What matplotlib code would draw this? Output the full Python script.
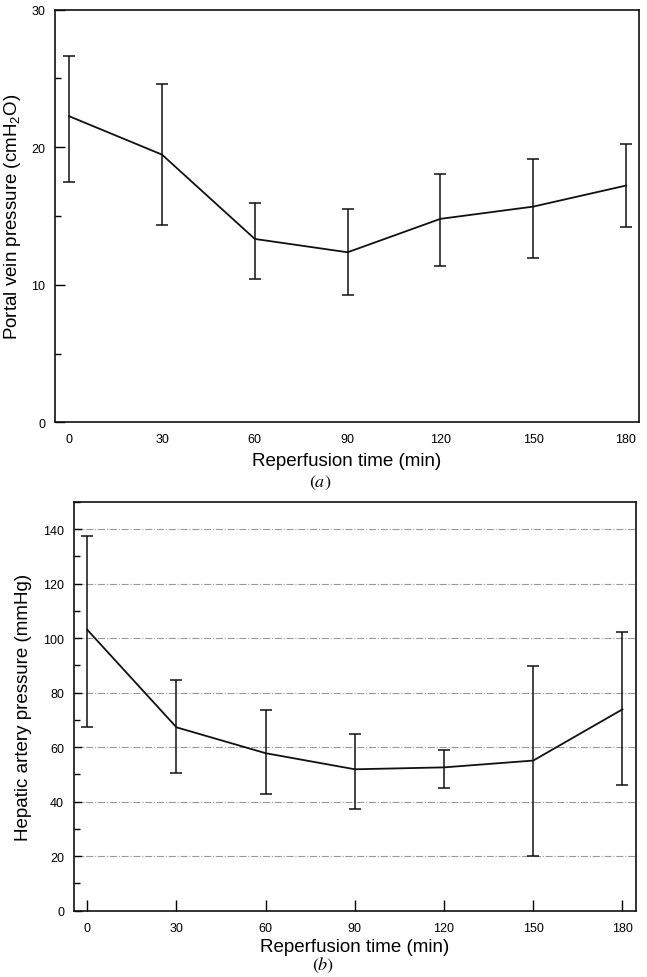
import matplotlib
matplotlib.use('Agg')
import matplotlib.pyplot as plt
import numpy as np
from matplotlib.ticker import MultipleLocator

# reperfusion time points (min)
time = [0, 30, 60, 90, 120, 150, 180]

# (a) portal vein pressure, cmH2O: mean with lower/upper bar ends
portal_mean = [22.25, 19.46, 13.33, 12.36, 14.79, 15.68, 17.21]
portal_upper = [26.66, 24.63, 15.95, 15.51, 18.06, 19.13, 20.22]
portal_lower = [17.50, 14.37, 10.42, 9.28, 11.35, 11.95, 14.23]

# (b) hepatic artery pressure, mmHg
hepatic_mean = [103.1, 67.3, 57.8, 51.9, 52.6, 55.1, 73.9]
hepatic_upper = [137.4, 84.6, 73.8, 64.9, 58.9, 89.9, 102.4]
hepatic_lower = [67.3, 50.7, 42.7, 37.3, 45.1, 20.0, 46.3]

xticks = [0, 30, 60, 90, 120, 150, 180]

plt.rcParams['font.family'] = ['Liberation Sans', 'DejaVu Sans']
plt.rcParams['mathtext.fontset'] = 'custom'
plt.rcParams['mathtext.rm'] = 'Liberation Sans'
plt.rcParams['mathtext.it'] = 'Liberation Sans:italic'

fig = plt.figure(figsize=(6.47, 9.78), dpi=100)
ax1 = fig.add_axes([0.085, 0.5672, 0.903, 0.4219])
ax2 = fig.add_axes([0.1142, 0.0678, 0.869, 0.4179])


def draw_errors(ax, mean, lower, upper):
    mean = np.array(mean)
    yerr = [mean - np.array(lower), np.array(upper) - mean]
    ax.errorbar(time, mean, yerr=yerr, color='#111111', lw=1.3,
                elinewidth=1.1, capsize=4.3, capthick=1.1, zorder=3)


# ---- panel (a)
draw_errors(ax1, portal_mean, portal_lower, portal_upper)
ax1.set_xlim(-4.6, 184.3)
ax1.set_ylim(0, 30)
ax1.set_xticks(xticks)
ax1.yaxis.set_major_locator(MultipleLocator(10))
ax1.yaxis.set_minor_locator(MultipleLocator(5))
ax1.tick_params(axis='x', length=0, pad=8, labelsize=9)
ax1.tick_params(axis='y', which='major', direction='in', length=7, width=1,
                pad=7, labelsize=9)
ax1.tick_params(axis='y', which='minor', direction='in', length=4, width=1)
ax1.set_xlabel('Reperfusion time (min)', fontsize=13.5, labelpad=5)
ax1.set_ylabel('Portal vein pressure (cmH$_2$O)', fontsize=13.5, labelpad=6)

# ---- panel (b)
draw_errors(ax2, hepatic_mean, hepatic_lower, hepatic_upper)
ax2.set_xlim(-4.5, 184.6)
ax2.set_ylim(0, 150)
ax2.set_xticks(xticks)
ax2.yaxis.set_major_locator(MultipleLocator(20))
ax2.yaxis.set_minor_locator(MultipleLocator(10))
ax2.set_yticks(range(0, 141, 20))
ax2.tick_params(axis='x', direction='in', length=8, width=1, pad=8,
                labelsize=9)
ax2.tick_params(axis='y', which='major', direction='in', length=6, width=1,
                pad=7, labelsize=9)
ax2.tick_params(axis='y', which='minor', direction='in', length=4, width=1)
for g in range(20, 141, 20):
    ax2.axhline(g, color='#999999', lw=0.8, ls='-.', zorder=1)
ax2.set_xlabel('Reperfusion time (min)', fontsize=13.5, labelpad=3)
ax2.set_ylabel('Hepatic artery pressure (mmHg)', fontsize=13.5, labelpad=8)

for ax in (ax1, ax2):
    for s in ax.spines.values():
        s.set_linewidth(1.2)
        s.set_color('#111111')

# panel letters
fig.text(320 / 647, 1 - 483 / 978, '$(a)$', math_fontfamily='stix',
         fontsize=13, ha='center', va='center')
fig.text(323 / 647, 1 - 965 / 978, '$(b)$', math_fontfamily='stix',
         fontsize=13, ha='center', va='center')

plt.savefig('out.png', dpi=100)
